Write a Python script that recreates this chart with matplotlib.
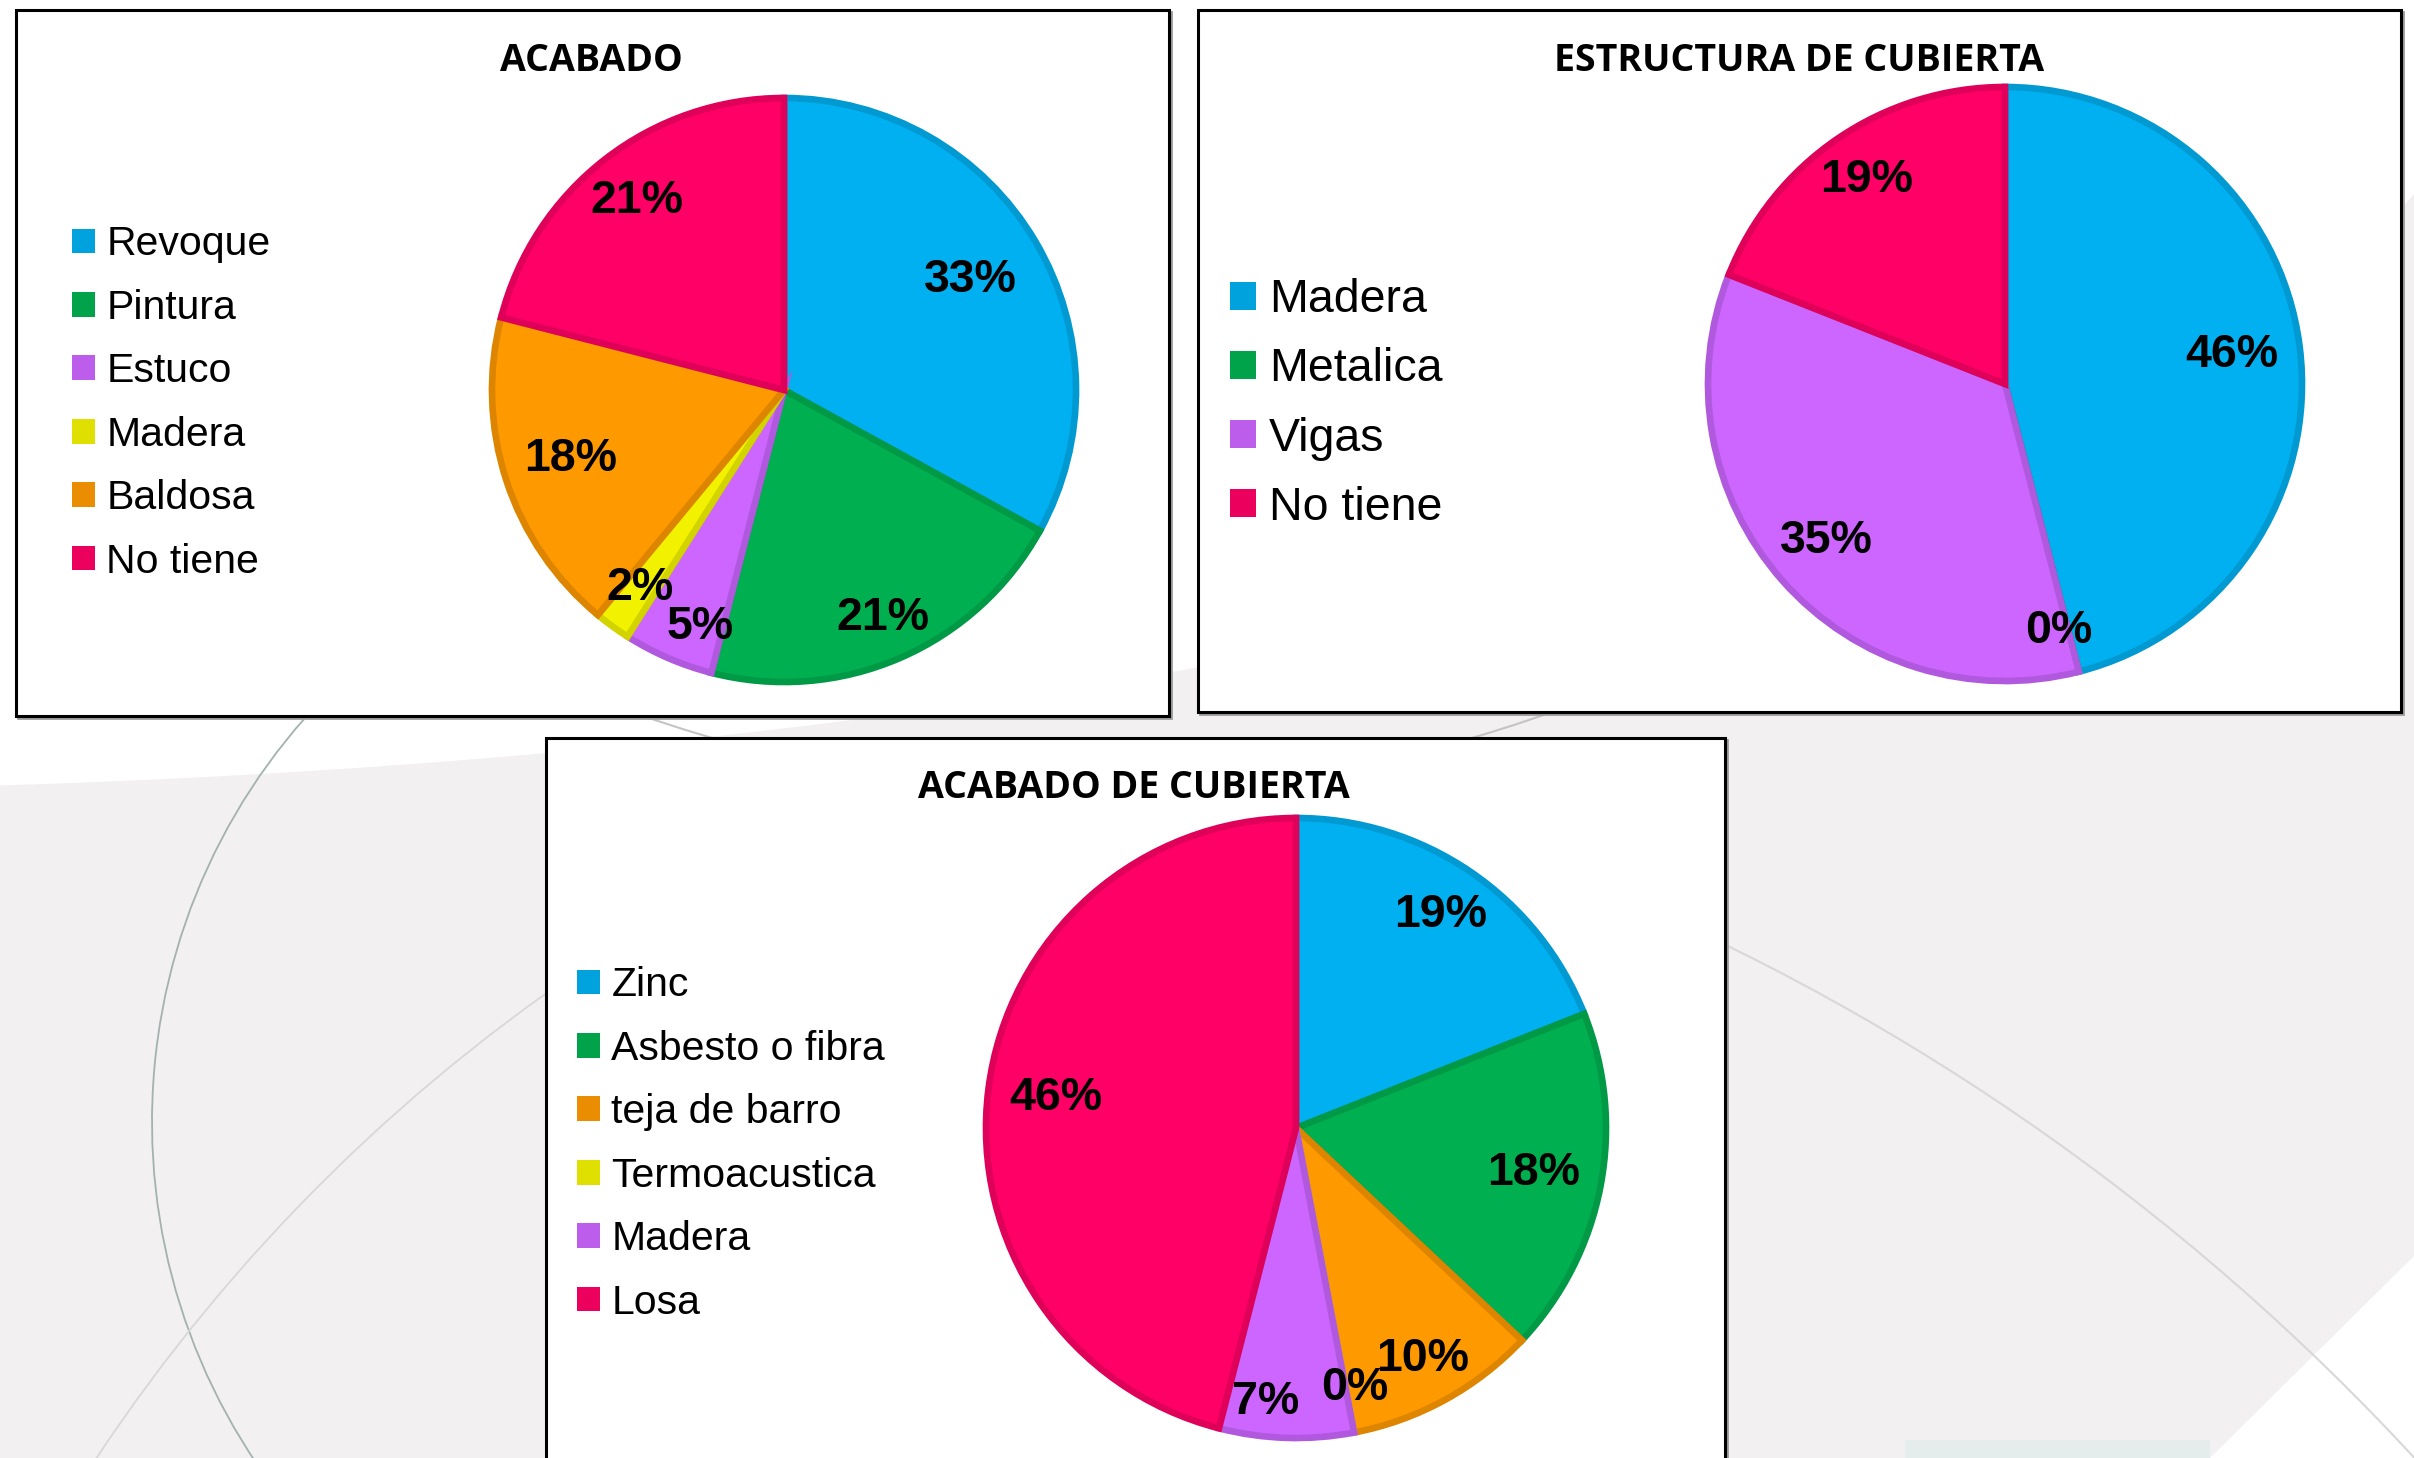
import numpy as np
import matplotlib
matplotlib.use('Agg')
import matplotlib.pyplot as plt
import matplotlib.patches as mpatches
from matplotlib.colors import to_rgb

W, H = 2414, 1458

# --- data ---
acabado_labels = ['Revoque', 'Pintura', 'Estuco', 'Madera', 'Baldosa', 'No tiene']
acabado_vals = [33, 21, 5, 2, 18, 21]

estructura_labels = ['Madera', 'Metalica', 'Vigas', 'No tiene']
estructura_vals = [46, 0, 35, 19]

cubierta_labels = ['Zinc', 'Asbesto o fibra', 'teja de barro', 'Termoacustica', 'Madera', 'Losa']
cubierta_vals = [19, 18, 10, 0, 7, 46]

BLUE, GREEN, PURPLE = '#00b0f0', '#00b050', '#cc66ff'
YELLOW, ORANGE, PINK = '#f2f200', '#ff9900', '#ff0066'

acabado_colors = [BLUE, GREEN, PURPLE, YELLOW, ORANGE, PINK]
estructura_colors = [BLUE, GREEN, PURPLE, PINK]
cubierta_colors = [BLUE, GREEN, ORANGE, YELLOW, PURPLE, PINK]


def darker(c, f=0.9):
	r, g, b = to_rgb(c)
	return (r*f, g*f, b*f)


def px_axes(fig, cx, cy, r):
	s = 1.25*r
	return fig.add_axes([(cx - s)/W, 1 - (cy + s)/H, 2*s/W, 2*s/H])


def draw_pie(fig, cx, cy, r, vals, labels, colors, dists, nudges,
		leg_x, leg_y, leg_size, leg_space):
	ax = px_axes(fig, cx, cy, r)
	wedges, _ = ax.pie(vals, colors=colors, startangle=90, counterclock=False,
		radius=1.0, wedgeprops=dict(linewidth=4.8))
	for w, c in zip(wedges, colors):
		w.set_edgecolor(darker(c, 0.87))
	total = float(sum(vals))
	for w, v, d, n in zip(wedges, vals, dists, nudges):
		ang = np.deg2rad((w.theta1 + w.theta2)/2.0 + n)
		ax.text(d*np.cos(ang), d*np.sin(ang), '%d%%' % round(100*v/total),
			ha='center', va='center', fontsize=33.5, fontweight='bold',
			family='Liberation Sans', color='black')
	ax.set_xlim(-1.25, 1.25)
	ax.set_ylim(-1.25, 1.25)
	ax.set_aspect('equal')
	ax.axis('off')
	handles = [mpatches.Patch(facecolor=darker(c, 0.92), edgecolor='none') for c in colors]
	ax.legend(handles, labels, loc='center left',
		bbox_to_anchor=(leg_x/W, 1 - leg_y/H), bbox_transform=fig.transFigure,
		frameon=False, prop=dict(family='Liberation Sans', size=leg_size),
		handlelength=0.56, handleheight=0.56, handletextpad=0.28,
		labelspacing=leg_space, borderpad=0, borderaxespad=0)
	return ax


fig = plt.figure(figsize=(W/100.0, H/100.0), dpi=100, facecolor='#f2f0f1')
bg = fig.add_axes([0, 0, 1, 1])
bg.set_xlim(0, W)
bg.set_ylim(H, 0)
bg.axis('off')

# background decoration
bg.add_patch(mpatches.Ellipse((-300, 0), 5600, 1580, facecolor='white', edgecolor='none', zorder=0))
bg.add_patch(mpatches.Polygon([(2414, 1256), (2210, 1458), (2414, 1458)], closed=True,
	facecolor='white', edgecolor='none', zorder=0))
bg.add_patch(mpatches.Rectangle((1905, 1440), 305, 20, facecolor='#e4ecec', edgecolor='none', zorder=0))
bg.add_patch(mpatches.Arc((762, 1122), 1220, 1220, theta1=140, theta2=230,
	color='#a3b2af', lw=1.3, zorder=1))
bg.add_patch(mpatches.Arc((1574, 2438), 3546, 3546, theta1=212, theta2=236,
	color='#d8d8d8', lw=1.3, zorder=1))
bg.add_patch(mpatches.Arc((702, 3038), 4660, 4660, theta1=-66, theta2=-40,
	color='#d8d8d8', lw=1.5, zorder=1))
bg.add_patch(mpatches.Arc((1092, -570), 2724, 2724, theta1=70, theta2=112,
	color='#c4c4c4', lw=1.5, zorder=1))

# chart panels
for (x0, y0, x1, y1) in [(16, 10, 1169, 716), (1198, 10, 2401, 712), (546, 738, 1725, 1470)]:
	bg.add_patch(mpatches.Rectangle((x0 + 2, y0 + 2), x1 - x0, y1 - y0,
		facecolor='none', edgecolor='#9a9a9a', lw=2.0, zorder=2))
	bg.add_patch(mpatches.Rectangle((x0, y0), x1 - x0, y1 - y0,
		facecolor='white', edgecolor='black', lw=2.2, zorder=3))

title_kw = dict(ha='center', va='baseline', fontsize=27, fontweight='bold',
	family='Open Sans', color='black', zorder=4)
bg.text(591, 71, 'ACABADO', **title_kw)
bg.text(1799, 71, 'ESTRUCTURA DE CUBIERTA', **title_kw)
bg.text(1134, 798, 'ACABADO DE CUBIERTA', **title_kw)

draw_pie(fig, 784, 390, 292, acabado_vals, acabado_labels, acabado_colors,
	[0.74, 0.85, 0.86, 0.84, 0.77, 0.82], [0, 0, 4, 0, 0, 0],
	72, 403, 29.5, 0.62)
draw_pie(fig, 2005, 384, 297, estructura_vals, estructura_labels, estructura_colors,
	[0.77, 0.85, 0.80, 0.83], [0, -2, 0, 0],
	1230, 404, 33.5, 0.54)
draw_pie(fig, 1296, 1128, 310, cubierta_vals, cubierta_labels, cubierta_colors,
	[0.83, 0.78, 0.85, 0.86, 0.89, 0.78], [0, 0, 0, 2, -4.6, 0],
	577, 1144, 29.5, 0.62)

fig.savefig('out.png', dpi=100, facecolor=fig.get_facecolor())
